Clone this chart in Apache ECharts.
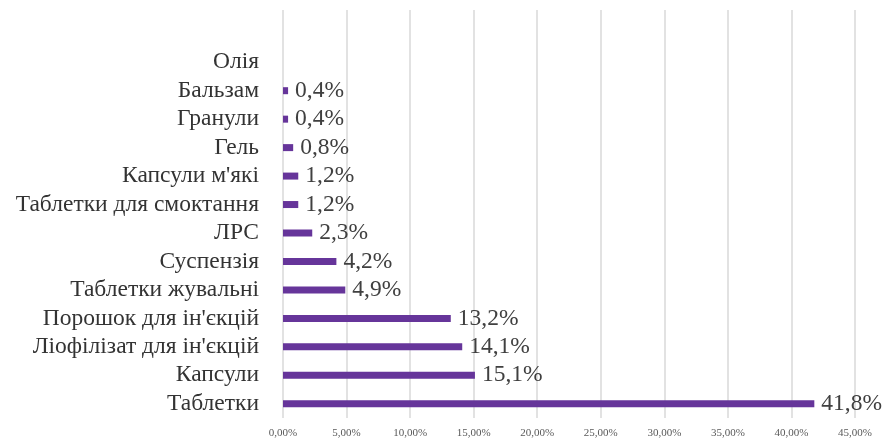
<!DOCTYPE html>
<html>
<head>
<meta charset="utf-8">
<script src="https://cdn.jsdelivr.net/npm/echarts@6/dist/echarts.min.js"></script>
<style>
  html, body { margin: 0; padding: 0; background: #fff; }
  #chart { width: 890px; height: 441px; }
</style>
</head>
<body>
<div id="chart"></div>
<script>
// Dosage forms, listed bottom to top
const categories = [
  'Таблетки', 'Капсули', "Ліофілізат для ін'єкцій", "Порошок для ін'єкцій",
  'Таблетки жувальні', 'Суспензія', 'ЛРС', 'Таблетки для смоктання',
  "Капсули м'які", 'Гель', 'Гранули', 'Бальзам', 'Олія'
];
// Share of each form, %
const shares = [41.8, 15.1, 14.1, 13.2, 4.9, 4.2, 2.3, 1.2, 1.2, 0.8, 0.4, 0.4, null];

const axisMin = 0, axisMax = 45, axisStep = 5;
const fmtTick = v => v.toFixed(2).replace('.', ',') + '%';
const fmtValue = v => v.toFixed(1).replace('.', ',') + '%';

const serif = '"Liberation Serif", "DejaVu Serif", serif';
const barColor = '#66359a';
const gridColor = '#d9d9d9';

const chart = echarts.init(document.getElementById('chart'));
chart.setOption({
  backgroundColor: '#ffffff',
  animation: false,
  grid: [
    { left: 283, right: 35, top: 48, bottom: 23 },
    // upper strip: the vertical gridlines continue above the first row
    { left: 283, right: 35, top: 10, height: 38 }
  ],
  xAxis: [
    {
      gridIndex: 0, type: 'value', min: axisMin, max: axisMax, interval: axisStep,
      axisLine: { show: false }, axisTick: { show: false },
      splitLine: { show: true, lineStyle: { color: gridColor, width: 1.5 } },
      axisLabel: {
        formatter: fmtTick, fontFamily: serif, fontSize: 11, color: '#595959', margin: 10
      }
    },
    {
      gridIndex: 1, type: 'value', min: axisMin, max: axisMax, interval: axisStep,
      axisLine: { show: false }, axisTick: { show: false }, axisLabel: { show: false },
      splitLine: { show: true, lineStyle: { color: gridColor, width: 1.5 } }
    }
  ],
  yAxis: [
    {
      gridIndex: 0, type: 'category', data: categories,
      axisLine: { show: false }, axisTick: { show: false },
      axisLabel: {
        interval: 0, fontFamily: serif, fontSize: 23.5, color: '#333333', margin: 24
      }
    },
    {
      gridIndex: 1, type: 'value', show: false
    }
  ],
  series: [{
    type: 'bar',
    xAxisIndex: 0, yAxisIndex: 0,
    data: shares,
    barWidth: 7,
    itemStyle: { color: barColor },
    label: {
      show: true, position: 'right', distance: 7,
      formatter: p => fmtValue(p.value),
      fontFamily: serif, fontSize: 23.5, color: '#404040'
    }
  }]
});
</script>
</body>
</html>
